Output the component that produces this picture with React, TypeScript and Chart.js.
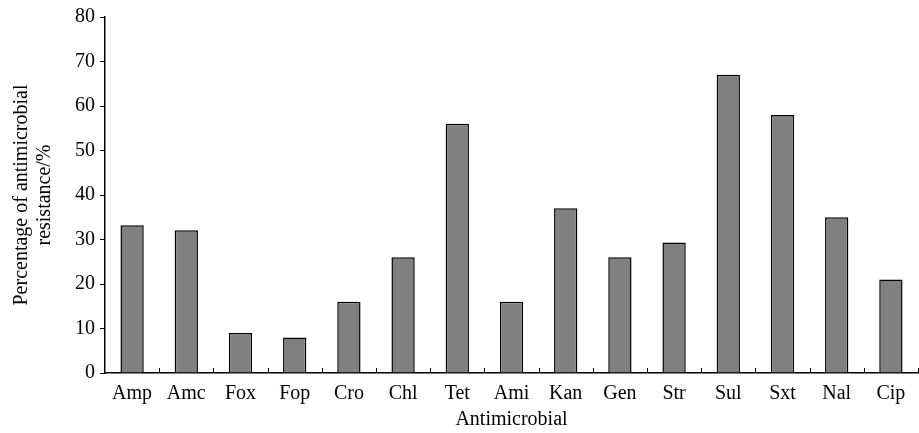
import React, { useEffect, useRef } from "react";
import { Chart, registerables } from "chart.js";

Chart.register(...registerables);

const categories = ["Amp", "Amc", "Fox", "Fop", "Cro", "Chl", "Tet", "Ami", "Kan", "Gen", "Str", "Sul", "Sxt", "Nal", "Cip"];
const resistance = [33.2, 32.1, 9, 8, 16, 26, 56, 16, 37, 26, 29.3, 67, 58, 35, 21];
const yTitle = ["Percentage of antimicrobial", "resistance/%"];
const xTitle = "Antimicrobial";

const FONT = "'Liberation Serif', 'Times New Roman', serif";

const innerTicks = {
  id: "innerTicks",
  afterDatasetsDraw(chart: any) {
    const x = chart.scales.x;
    const ctx = chart.ctx;
    const n = chart.data.labels.length;
    const half = (x.getPixelForValue(1) - x.getPixelForValue(0)) / 2;
    ctx.save();
    ctx.strokeStyle = "#000";
    ctx.lineWidth = 1;
    ctx.beginPath();
    for (let i = 0; i < n; i++) {
      const px = Math.round(x.getPixelForValue(i) + half) + 0.5;
      ctx.moveTo(px, x.top);
      ctx.lineTo(px, x.top - 5);
    }
    ctx.stroke();
    ctx.restore();
  },
};

export default function App() {
  const ref = useRef<HTMLCanvasElement>(null);
  useEffect(() => {
    document.body.style.margin = "0";
    const chart = new Chart(ref.current!, {
      type: "bar",
      data: {
        labels: categories,
        datasets: [
          {
            data: resistance,
            backgroundColor: "#808080",
            borderColor: "#000",
            borderWidth: 1.5,
            categoryPercentage: 1,
            barPercentage: 0.43,
          },
        ],
      },
      options: {
        animation: false,
        responsive: false,
        maintainAspectRatio: false,
        layout: { padding: { top: 16, right: 1, left: 0, bottom: 0 } },
        plugins: { legend: { display: false }, tooltip: { enabled: false } },
        scales: {
          x: {
            grid: { display: false },
            border: { display: true, color: "#000", width: 1.5 },
            ticks: { color: "#000", font: { family: FONT, size: 20 }, padding: 1, maxRotation: 0 },
            title: { display: true, text: xTitle, color: "#000", font: { family: FONT, size: 20 }, padding: { top: 0, bottom: 1 } },
            afterFit(s: any) { s.height = 60; },
          },
          y: {
            min: 0,
            max: 80,
            ticks: { stepSize: 10, color: "#000", font: { family: FONT, size: 20 }, padding: 5 },
            grid: { drawOnChartArea: false, drawTicks: true, tickLength: 5, color: "#000", lineWidth: 1 },
            border: { display: true, color: "#000", width: 1.5 },
            title: { display: true, text: yTitle, color: "#000", font: { family: FONT, size: 20, lineHeight: 1.15 }, padding: { top: 10, bottom: 0 } },
            afterFit(s: any) { s.width = 105; },
          },
        },
      },
      plugins: [innerTicks],
    });
    return () => chart.destroy();
  }, []);
  return (
    <div style={{ width: 919, height: 433, background: "#fff" }}>
      <canvas ref={ref} width={919} height={433} />
    </div>
  );
}
